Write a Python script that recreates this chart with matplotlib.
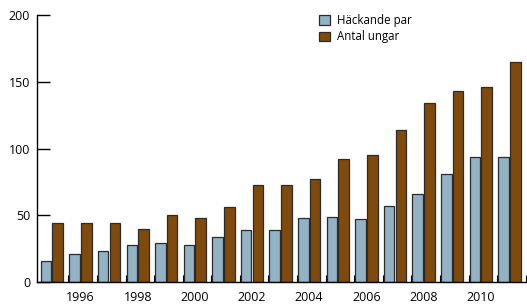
import matplotlib
matplotlib.use("Agg")
import matplotlib.pyplot as plt
import numpy as np

years = list(range(1995, 2012))
hackande_par = [16, 21, 23, 28, 29, 28, 34, 39, 39, 48, 49, 47, 57, 66, 81, 94, 94]
antal_ungar = [44, 44, 44, 40, 50, 48, 56, 73, 73, 77, 92, 95, 114, 134, 143, 146, 165]
tick_years = [1996, 1998, 2000, 2002, 2004, 2006, 2008, 2010]
yticks = [0, 50, 100, 150, 200]

plt.rcParams['font.family'] = ['Open Sans', 'DejaVu Sans']

fig = plt.figure(figsize=(5.27, 3.05), dpi=100)
ax = fig.add_axes([37/527, 23/305, 1 - 37/527, (282-15)/305])

x = np.arange(len(years))
w = 0.37
c_blue = '#93b3c5'
c_brown = '#7f4a0b'
b1 = ax.bar(x - 0.28, hackande_par, w, color=c_blue, edgecolor='#2b2b2b', linewidth=0.9, label='Häckande par')
b2 = ax.bar(x + 0.13, antal_ungar, w, color=c_brown, edgecolor='#2b2b2b', linewidth=0.9, label='Antal ungar')

ax.set_xlim(-0.595, len(years) - 0.46)
ax.set_ylim(0, 200)
ax.set_yticks(yticks)
ax.tick_params(axis='y', direction='in', length=9, width=1, pad=5, labelsize=9)

ax.set_xticks([years.index(t) - 0.075 for t in tick_years])
ax.set_xticklabels([str(t) for t in tick_years])
ax.set_xticks(x - 0.5 + 1, minor=True)
ax.tick_params(axis='x', which='major', length=0, pad=6.5, labelsize=9)
ax.tick_params(axis='x', which='minor', direction='in', length=5, width=0.8)

for s in ['top', 'right']:
    ax.spines[s].set_visible(False)
ax.spines['left'].set_linewidth(1)
ax.spines['bottom'].set_linewidth(1)

ax.legend(handles=[b1, b2], loc='upper left', bbox_to_anchor=(319/527, 1 - 14/305),
          bbox_transform=fig.transFigure, frameon=False, fontsize=8.3,
          handlelength=0.95, handleheight=0.95, handletextpad=0.6, labelspacing=0.3,
          borderpad=0, borderaxespad=0)

fig.savefig('out.png', dpi=100)
